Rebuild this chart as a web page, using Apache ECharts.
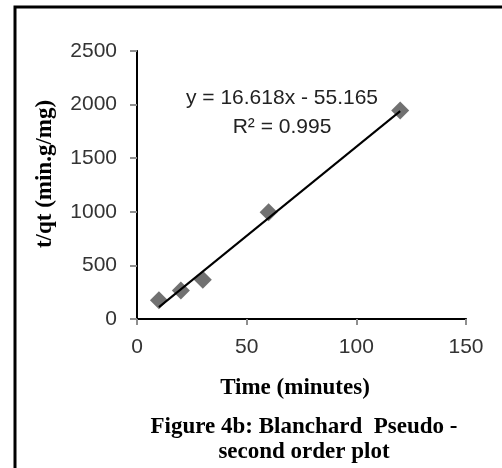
<!DOCTYPE html>
<html>
<head>
<meta charset="utf-8">
<script src="https://cdn.jsdelivr.net/npm/echarts@6/dist/echarts.min.js"></script>
<style>
html,body{margin:0;padding:0;background:#fff;}
#chart{width:502px;height:468px;}
</style>
</head>
<body>
<div id="chart"></div>
<script>
// Data
var timeMinutes = [10, 20, 30, 60, 120];
var tOverQt = [175, 265, 365, 995, 1945];
var trendSlope = 16.618;
var trendIntercept = -55.165;
var trendRange = [10, 120];
var xTicks = [0, 150, 50];   // min, max, interval
var yTicks = [0, 2500, 500]; // min, max, interval
var equationText = 'y = 16.618x - 55.165';
var r2Text = 'R\u00b2 = 0.995';
var xTitle = 'Time (minutes)';
var yTitle = 't/qt (min.g/mg)';
var captionLines = ['Figure 4b: Blanchard  Pseudo -', 'second order plot'];

var points = timeMinutes.map(function (t, i) { return [t, tOverQt[i]]; });
var trend = trendRange.map(function (x) { return [x, trendSlope * x + trendIntercept]; });

var chart = echarts.init(document.getElementById('chart'), null, {renderer: 'canvas'});
var tickFont = {fontFamily: 'Liberation Sans', fontSize: 21, color: '#333'};
var gray = '#8f8f8f';
var plain = function (v) { return String(v); };

chart.setOption({
  animation: false,
  backgroundColor: '#fff',
  grid: {left: 137, top: 51, right: 36, bottom: 149, containLabel: false},
  xAxis: [{
    type: 'value', min: xTicks[0], max: xTicks[1], interval: xTicks[2],
    axisLine: {show: true, onZero: false, lineStyle: {color: gray, width: 2}},
    axisTick: {show: true, inside: false, length: 6, lineStyle: {color: gray, width: 2}},
    axisLabel: Object.assign({margin: 18, formatter: plain}, tickFont),
    splitLine: {show: false}
  }, {
    type: 'value', position: 'top', min: xTicks[0], max: xTicks[1],
    axisLine: {show: true, lineStyle: {color: '#000', width: 2}},
    axisTick: {show: false}, axisLabel: {show: false}, splitLine: {show: false}
  }],
  yAxis: [{
    type: 'value', min: yTicks[0], max: yTicks[1], interval: yTicks[2],
    axisLine: {show: true, onZero: false, lineStyle: {color: gray, width: 2}},
    axisTick: {show: true, inside: false, length: 7, lineStyle: {color: gray, width: 2}},
    axisLabel: Object.assign({margin: 20, formatter: plain}, tickFont),
    splitLine: {show: false}
  }, {
    type: 'value', position: 'right', min: yTicks[0], max: yTicks[1],
    axisLine: {show: true, lineStyle: {color: '#000', width: 2}},
    axisTick: {show: false}, axisLabel: {show: false}, splitLine: {show: false}
  }],
  series: [{
    type: 'scatter',
    data: points,
    symbol: 'diamond',
    symbolSize: [18, 18],
    itemStyle: {color: '#4d4d4d'},
    z: 2
  }, {
    type: 'line',
    data: trend,
    showSymbol: false,
    symbol: 'none',
    lineStyle: {color: '#000', width: 2},
    z: 3
  }],
  graphic: [
    {type: 'polyline', shape: {points: [[15, 470], [15, 7], [504, 7]]},
     style: {stroke: '#000', lineWidth: 3, fill: null}},
    {type: 'text', x: 282, y: 98, style: {text: equationText, font: '21px "Liberation Sans"', fill: '#222', textAlign: 'center', textVerticalAlign: 'middle'}},
    {type: 'text', x: 282, y: 127, style: {text: r2Text, font: '21px "Liberation Sans"', fill: '#222', textAlign: 'center', textVerticalAlign: 'middle'}},
    {type: 'text', x: 45, y: 174, rotation: Math.PI / 2, style: {text: yTitle, font: 'bold 23px "Liberation Serif"', fill: '#000', textAlign: 'center', textVerticalAlign: 'middle'}},
    {type: 'text', x: 295, y: 388, style: {text: xTitle, font: 'bold 23px "Liberation Serif"', fill: '#000', textAlign: 'center', textVerticalAlign: 'middle'}},
    {type: 'text', x: 304, y: 427, style: {text: captionLines[0], font: 'bold 23px "Liberation Serif"', fill: '#000', textAlign: 'center', textVerticalAlign: 'middle'}},
    {type: 'text', x: 304, y: 452, style: {text: captionLines[1], font: 'bold 23px "Liberation Serif"', fill: '#000', textAlign: 'center', textVerticalAlign: 'middle'}}
  ]
});
</script>
</body>
</html>
